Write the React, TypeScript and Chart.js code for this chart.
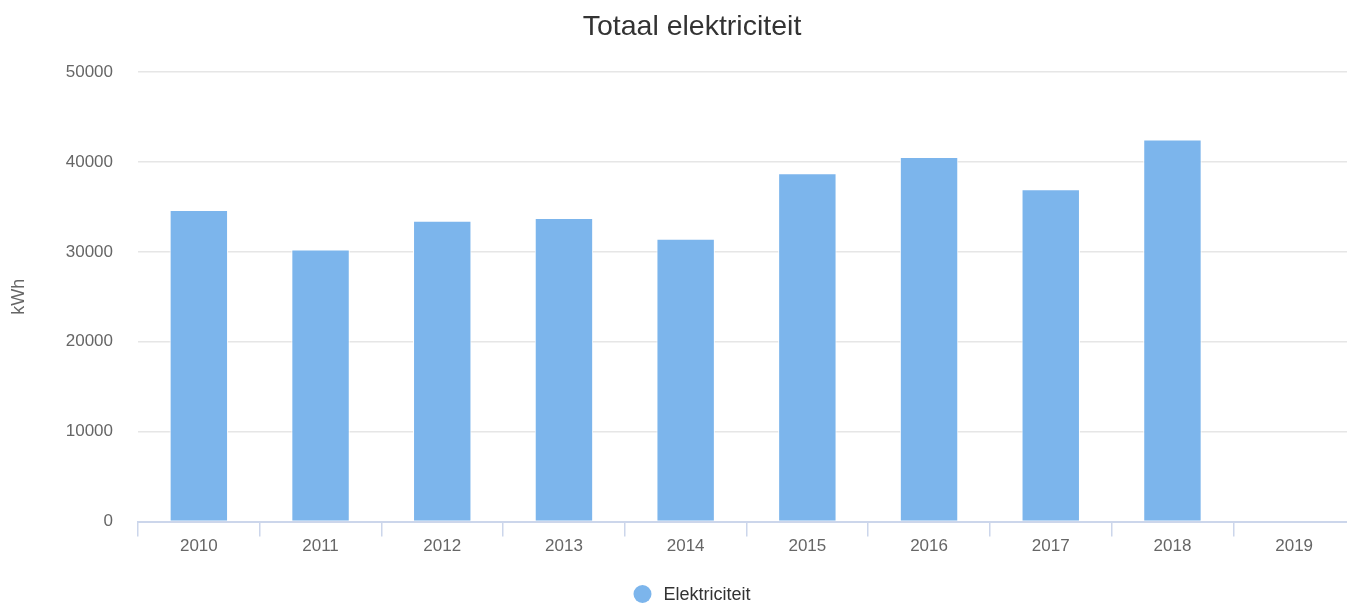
import React, { useEffect, useRef } from "react";
import { Chart, registerables } from "chart.js";

Chart.register(...registerables);

const TITLE = "Totaal elektriciteit";
const Y_TITLE = "kWh";
const SERIES_LABEL = "Elektriciteit";
const categories = ["2010", "2011", "2012", "2013", "2014", "2015", "2016", "2017", "2018", "2019"];
const values: (number | null)[] = [34650, 30250, 33450, 33750, 31450, 38750, 40550, 36950, 42500, null];
const yTicks = [0, 10000, 20000, 30000, 40000, 50000];

const BAR_COLOR = "#7cb5ec";
const FONT = '"Liberation Sans", Arial, Helvetica, sans-serif';

const legendPlugin = {
  id: "customLegend",
  afterDraw(chart: any) {
    const ctx = chart.ctx;
    const ds = chart.data.datasets[0];
    const r = 9;
    const gap = 12;
    ctx.save();
    ctx.font = `18px ${FONT}`;
    const tw = ctx.measureText(ds.label).width;
    const total = r * 2 + gap + tw;
    const x0 = chart.width / 2 - total / 2;
    const y = chart.height - 10;
    ctx.fillStyle = ds.backgroundColor;
    ctx.beginPath();
    ctx.arc(x0 + r, y, r, 0, Math.PI * 2);
    ctx.fill();
    ctx.fillStyle = "#333333";
    ctx.textBaseline = "middle";
    ctx.textAlign = "left";
    ctx.fillText(ds.label, x0 + 2 * r + gap, y + 1);
    ctx.restore();
  },
};

export default function App() {
  const ref = useRef<HTMLCanvasElement | null>(null);
  useEffect(() => {
    document.body.style.margin = "0";
    document.body.style.overflow = "hidden";
    document.documentElement.style.overflow = "hidden";
    if (!ref.current) return;
    Chart.defaults.font.family = FONT;
    const chart = new Chart(ref.current, {
      type: "bar",
      data: {
        labels: categories,
        datasets: [
          {
            label: SERIES_LABEL,
            data: values,
            backgroundColor: BAR_COLOR,
            borderColor: "#ffffff",
            borderWidth: 1,
            barPercentage: 0.48,
            categoryPercentage: 1,
            yAxisID: "y",
          },
        ],
      },
      options: {
        responsive: false,
        animation: false,
        layout: { padding: { left: 0, right: 0, top: 0, bottom: 47 } },
        plugins: {
          legend: { display: false },
          tooltip: { enabled: false },
          title: {
            display: true,
            text: TITLE,
            color: "#333333",
            font: { size: 28.5, weight: "normal", family: FONT },
            padding: { top: 10, bottom: 27.8 },
          },
        },
        scales: {
          x: {
            offset: true,
            grid: {
              offset: true,
              drawOnChartArea: false,
              drawTicks: true,
              tickLength: 15,
              color: "#ccd6eb",
              lineWidth: 1.5,
            },
            border: { display: true, color: "#ccd6eb", width: 2 },
            ticks: {
              color: "#666666",
              font: { size: 17, family: FONT },
              padding: 0,
              maxRotation: 0,
            },
          },
          y: {
            position: "left",
            min: 0,
            max: 50000,
            afterBuildTicks: (scale: any) => {
              scale.ticks = yTicks.map((v) => ({ value: v }));
            },
            afterFit: (scale: any) => {
              scale.width = 138;
            },
            grid: { color: "#e6e6e6", lineWidth: 1.5, drawTicks: false },
            border: { display: false },
            ticks: {
              color: "#666666",
              font: { size: 17, family: FONT },
              padding: 25,
              callback: (v: any) => String(v),
            },
            title: {
              display: true,
              text: Y_TITLE,
              color: "#666666",
              font: { size: 18, family: FONT },
              padding: { top: 8, bottom: 0 },
            },
          },
          yRight: {
            position: "right",
            display: true,
            min: 0,
            max: 1,
            grid: { display: false, drawTicks: false },
            border: { display: false },
            ticks: { display: false },
            afterFit: (scale: any) => {
              scale.width = 29;
            },
          },
        },
      },
      plugins: [legendPlugin],
    } as any);
    return () => chart.destroy();
  }, []);
  return (
    <div style={{ width: 1384, height: 604, position: "relative" }}>
      <canvas ref={ref} width={1384} height={604} style={{ display: "block" }} />
    </div>
  );
}
